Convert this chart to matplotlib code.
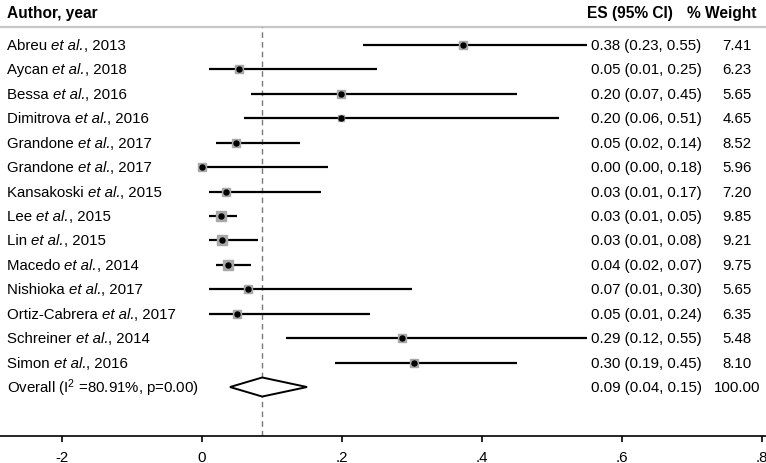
import matplotlib
matplotlib.use('Agg')
import matplotlib.pyplot as plt
from matplotlib.patches import Polygon
import numpy as np

plt.rcParams['font.family'] = ['Liberation Sans', 'DejaVu Sans']
plt.rcParams['mathtext.fontset'] = 'custom'
plt.rcParams['mathtext.rm'] = 'Liberation Sans'
plt.rcParams['mathtext.it'] = 'Liberation Sans:italic'
plt.rcParams['mathtext.bf'] = 'Liberation Sans:bold'

# ---------------- data ----------------
authors = ["Abreu", "Aycan", "Bessa", "Dimitrova", "Grandone", "Grandone",
           "Kansakoski", "Lee", "Lin", "Macedo", "Nishioka", "Ortiz-Cabrera",
           "Schreiner", "Simon"]
years = [2013, 2018, 2016, 2016, 2017, 2017, 2015, 2015, 2015, 2014, 2017,
         2017, 2014, 2016]
es = [0.373, 0.053, 0.199, 0.199, 0.049, 0.000, 0.034, 0.027, 0.029, 0.037,
      0.066, 0.050, 0.286, 0.303]
es_text = ["0.38", "0.05", "0.20", "0.20", "0.05", "0.00", "0.03", "0.03",
           "0.03", "0.04", "0.07", "0.05", "0.29", "0.30"]
ci_lo = [0.23, 0.01, 0.07, 0.06, 0.02, 0.00, 0.01, 0.01, 0.01, 0.02, 0.01,
         0.01, 0.12, 0.19]
ci_hi = [0.55, 0.25, 0.45, 0.51, 0.14, 0.18, 0.17, 0.05, 0.08, 0.07, 0.30,
         0.24, 0.55, 0.45]
weights = [7.41, 6.23, 5.65, 4.65, 8.52, 5.96, 7.20, 9.85, 9.21, 9.75, 5.65,
           6.35, 5.48, 8.10]

pooled_es = 0.086
pooled_es_text = "0.09"
pooled_lo = 0.04
pooled_hi = 0.15
pooled_weight = "100.00"
i2 = "80.91"
p_value = "0.00"

xticks = [-0.2, 0.0, 0.2, 0.4, 0.6, 0.8]
xticklabels = ["-2", "0", ".2", ".4", ".6", ".8"]

# ---------------- layout ----------------
W, H = 766, 464
axis_px = 437
row0_px = 46
row_step = 24.43
fs = 10.8
hfs = 11.2

fig = plt.figure(figsize=(W / 100, H / 100), dpi=100)
ax = fig.add_axes([0, (H - axis_px) / H, 1, axis_px / H])
ax.set_xlim(-202 / 700, (W - 202) / 700)
ax.set_ylim((axis_px - row0_px) / row_step, -row0_px / row_step)

n = len(authors)
ypos = np.arange(n)
y_overall = n
y_header = (13 - row0_px) / row_step
y_hline = (28 - row0_px) / row_step

tr = ax.get_yaxis_transform()

# header
ax.text(7 / W, y_header, "Author, year", transform=tr, fontsize=hfs,
        fontweight='bold', va='center', ha='left')
ax.text(587 / W, y_header, "ES (95% CI)", transform=tr, fontsize=hfs,
        fontweight='bold', va='center', ha='left')
ax.text(722 / W, y_header, "% Weight", transform=tr, fontsize=hfs,
        fontweight='bold', va='center', ha='center')
ax.axhline(y_hline, color='#c8c8c8', lw=1.6)

# reference (pooled) dashed line
ymax_frac = (axis_px - 28) / axis_px
ax.axvline(pooled_es, ymin=0, ymax=ymax_frac, color='#7a7a7a', lw=1.0,
           ls=(0, (4, 3)))

# studies
for i in range(n):
    y = ypos[i]
    ax.plot([ci_lo[i], ci_hi[i]], [y, y], color='black', lw=1.6,
            solid_capstyle='butt', zorder=2)
    side_px = 3.0 * np.sqrt(weights[i])
    ax.plot(es[i], y, marker='s', ms=side_px * 0.72, color='#a8a8a8',
            mec='#a8a8a8', zorder=3)
    ax.plot(es[i], y, marker='o', ms=3.6, color='black', zorder=4)
    t1 = ax.text(7 / W, y, f"{authors[i]} ", transform=tr, fontsize=fs,
                 va='center', ha='left')
    t2 = ax.annotate("et al.", xy=(1, 0), xycoords=t1, fontsize=fs,
                     style='italic', va='bottom', ha='left')
    ax.annotate(f", {years[i]}", xy=(1, 0), xycoords=t2, fontsize=fs,
                va='bottom', ha='left')
    ax.text(591 / W, y, f"{es_text[i]} ({ci_lo[i]:.2f}, {ci_hi[i]:.2f})",
            transform=tr, fontsize=fs, va='center', ha='left')
    ax.text(737 / W, y, f"{weights[i]:.2f}", transform=tr, fontsize=fs,
            va='center', ha='center')

# overall diamond
half_h = 0.39
diamond = Polygon([[pooled_lo, y_overall], [pooled_es, y_overall - half_h],
                   [pooled_hi, y_overall], [pooled_es, y_overall + half_h]],
                  closed=True, facecolor='white', edgecolor='black', lw=1.4,
                  zorder=3)
ax.add_patch(diamond)
ax.text(7 / W, y_overall,
        f"Overall ($\\mathrm{{I}}^{{\\mathrm{{2}}}}$ ={i2}%, p={p_value})",
        transform=tr, fontsize=fs, va='center', ha='left')
ax.text(591 / W, y_overall,
        f"{pooled_es_text} ({pooled_lo:.2f}, {pooled_hi:.2f})",
        transform=tr, fontsize=fs, va='center', ha='left')
ax.text(737 / W, y_overall, pooled_weight, transform=tr, fontsize=fs,
        va='center', ha='center')

# axes styling
for s in ['top', 'left', 'right']:
    ax.spines[s].set_visible(False)
ax.spines['bottom'].set_linewidth(1.2)
ax.spines['bottom'].set_color('black')
ax.set_yticks([])
ax.set_xticks(xticks)
ax.set_xticklabels(xticklabels)
ax.tick_params(axis='x', direction='out', length=4.5, width=1.2, pad=5.5,
               labelsize=fs)
ax.patch.set_alpha(0)

fig.savefig('out.png', dpi=100)
